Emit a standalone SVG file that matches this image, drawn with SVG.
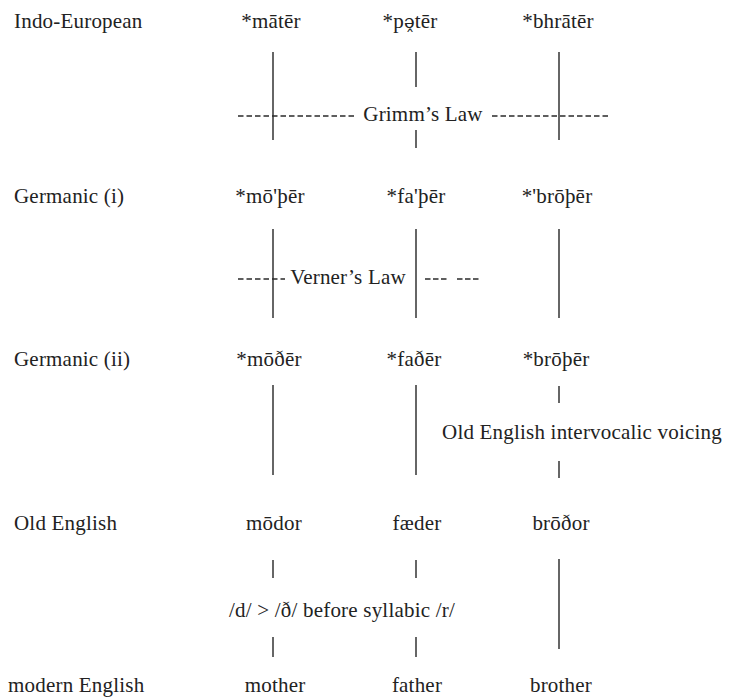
<svg xmlns="http://www.w3.org/2000/svg" width="737" height="697" viewBox="0 0 737 697">
<style>
text{font-family:"Liberation Serif","Times New Roman",serif;font-size:21px;fill:#222;letter-spacing:0.2px}
.m{text-anchor:middle}
.ln{stroke:#333;stroke-width:1.5;fill:none}
.dash{stroke:#2a2a2a;stroke-width:1.4;stroke-dasharray:5.5 3;fill:none}
.mk{font-family:"DejaVu Serif",serif;font-size:18px}
</style>
<rect width="737" height="697" fill="#fff"/>
<g id="labels">
<text x="14" y="28">Indo-European</text>
<text x="14" y="203">Germanic (i)</text>
<text x="14" y="366">Germanic (ii)</text>
<text x="14" y="530">Old English</text>
<text x="8" y="692">modern English</text>
</g>
<g id="row-ie">
<text class="m" x="271" y="28">*mātēr</text>
<text class="m" x="410" y="28">*p<tspan class="mk">ə̭</tspan>tēr</text>
<text class="m" x="558" y="28">*bhrātēr</text>
</g>
<g id="row-gmc1">
<text class="m" x="270" y="203">*mō'þēr</text>
<text class="m" x="416" y="203">*fa'þēr</text>
<text class="m" x="557" y="203">*'brōþēr</text>
</g>
<g id="row-gmc2">
<text class="m" x="269" y="366">*mōðēr</text>
<text class="m" x="414" y="366">*faðēr</text>
<text class="m" x="556" y="366">*brōþēr</text>
</g>
<g id="row-oe">
<text class="m" x="274" y="530">mōdor</text>
<text class="m" x="417" y="530">fæder</text>
<text class="m" x="561" y="530">brōðor</text>
</g>
<g id="row-modern">
<text class="m" x="275" y="692">mother</text>
<text class="m" x="417" y="692">father</text>
<text class="m" x="561" y="692">brother</text>
</g>
<g id="process-labels">
<text class="m" x="423" y="121">Grimm’s Law</text>
<text class="m" x="348" y="284">Verner’s Law</text>
<text class="m" x="582" y="439">Old English intervocalic voicing</text>
<text class="m" x="342" y="617">/d/ &gt; /ð/ before syllabic /r/</text>
</g>
<g id="connectors">
<line class="ln" x1="273" y1="52" x2="273" y2="140"/>
<line class="ln" x1="416" y1="52" x2="416" y2="87"/>
<line class="ln" x1="416" y1="130" x2="416" y2="148"/>
<line class="ln" x1="559" y1="52" x2="559" y2="140"/>
<line class="dash" x1="238" y1="116" x2="357" y2="116"/>
<line class="dash" x1="492" y1="116" x2="608" y2="116"/>
<line class="ln" x1="273" y1="229" x2="273" y2="318"/>
<line class="ln" x1="416" y1="229" x2="416" y2="318"/>
<line class="ln" x1="559" y1="229" x2="559" y2="318"/>
<line class="dash" x1="238" y1="279" x2="285" y2="279"/>
<line class="dash" x1="425" y1="279" x2="448" y2="279" style="stroke-dasharray:5.5 2.5"/>
<line class="dash" x1="457" y1="279" x2="480" y2="279" style="stroke-dasharray:5.5 2.5"/>
<line class="ln" x1="273" y1="385" x2="273" y2="475"/>
<line class="ln" x1="416" y1="385" x2="416" y2="475"/>
<line class="ln" x1="559" y1="386" x2="559" y2="403"/>
<line class="ln" x1="559" y1="461" x2="559" y2="478"/>
<line class="ln" x1="273" y1="560" x2="273" y2="578"/>
<line class="ln" x1="273" y1="637" x2="273" y2="657"/>
<line class="ln" x1="416" y1="560" x2="416" y2="578"/>
<line class="ln" x1="416" y1="637" x2="416" y2="657"/>
<line class="ln" x1="559" y1="559" x2="559" y2="649"/>
</g>
</svg>
